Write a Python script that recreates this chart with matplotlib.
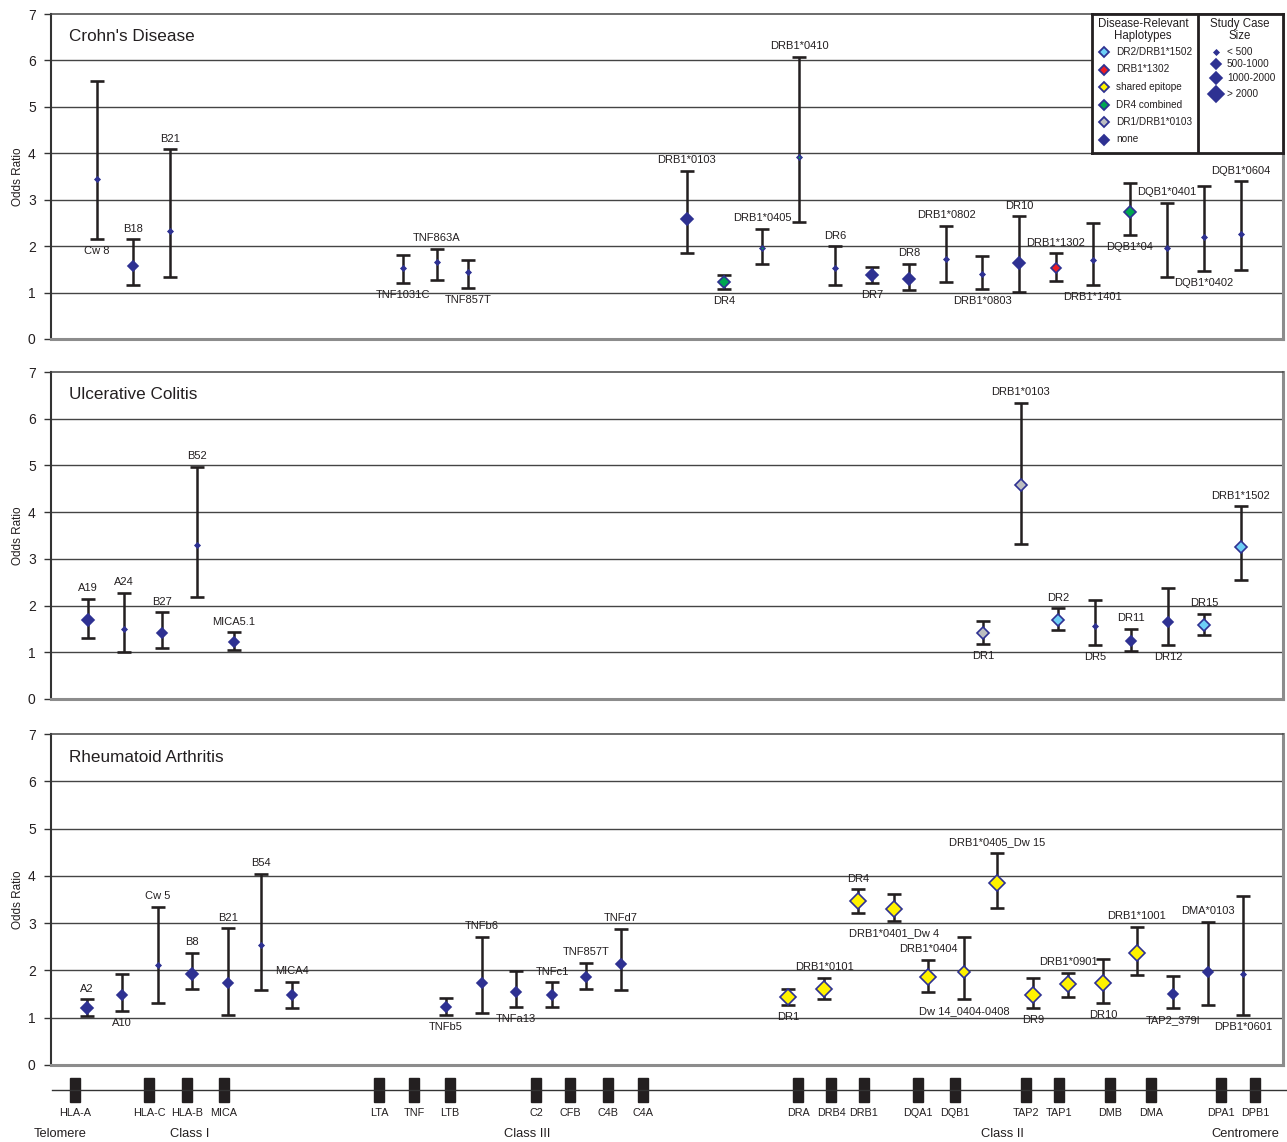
import matplotlib.pyplot as plt
from matplotlib.patches import Rectangle

plt.rcParams['font.family'] = ['Liberation Sans', 'DejaVu Sans']

# Crohn's disease
cd_names = ['Cw 8', 'B18', 'B21', 'TNF1031C', 'TNF863A', 'TNF857T', 'DRB1*0103', 'DR4',
            'DRB1*0405', 'DRB1*0410', 'DR6', 'DR7', 'DR8', 'DRB1*0802', 'DRB1*0803', 'DR10',
            'DRB1*1302', 'DRB1*1401', 'DQB1*04', 'DQB1*0401', 'DQB1*0402', 'DQB1*0604']
cd_pos = [97, 133, 170, 403, 437, 468, 687, 724, 762, 799, 835, 872, 909, 946, 982, 1019,
          1056, 1093, 1130, 1167, 1204, 1241]
cd_or = [3.45, 1.57, 2.33, 1.53, 1.66, 1.44, 2.59, 1.23, 1.96, 3.92, 1.53, 1.38, 1.29, 1.72,
         1.40, 1.64, 1.52, 1.70, 2.73, 1.96, 2.20, 2.27]
cd_lo = [2.15, 1.16, 1.34, 1.21, 1.27, 1.10, 1.85, 1.08, 1.62, 2.52, 1.16, 1.20, 1.06, 1.23,
         1.08, 1.01, 1.26, 1.17, 2.23, 1.34, 1.47, 1.49]
cd_hi = [5.56, 2.15, 4.09, 1.81, 1.94, 1.70, 3.62, 1.38, 2.37, 6.08, 2.00, 1.55, 1.62, 2.44,
         1.78, 2.64, 1.85, 2.50, 3.35, 2.93, 3.29, 3.40]
cd_hap = ['none', 'none', 'none', 'none', 'none', 'none', 'none', 'dr4', 'dr4', 'dr4', 'none',
          'none', 'none', 'none', 'none', 'none', 'dr1302', 'none', 'dr4', 'none', 'none', 'none']
cd_size = ['s', 'm', 's', 's', 's', 's', 'l', 'l', 's', 's', 's', 'l', 'l', 's', 's', 'l',
           'm', 's', 'l', 's', 's', 's']
cd_place = ['b', 'a', 'a', 'b', 'a', 'b', 'a', 'b', 'a', 'a', 'a', 'b', 'a', 'a', 'b', 'a',
            'a', 'b', 'b', 'a', 'b', 'a']

# ulcerative colitis
uc_names = ['A19', 'A24', 'B27', 'B52', 'MICA5.1', 'DR1', 'DRB1*0103', 'DR2', 'DR5', 'DR11',
            'DR12', 'DR15', 'DRB1*1502']
uc_pos = [88, 124, 162, 197, 234, 983, 1021, 1058, 1095, 1131, 1168, 1204, 1241]
uc_or = [1.69, 1.50, 1.42, 3.30, 1.22, 1.41, 4.58, 1.69, 1.56, 1.24, 1.65, 1.59, 3.25]
uc_lo = [1.31, 1.00, 1.09, 2.18, 1.05, 1.18, 3.32, 1.47, 1.15, 1.02, 1.15, 1.37, 2.55]
uc_hi = [2.14, 2.27, 1.86, 4.97, 1.43, 1.67, 6.34, 1.94, 2.12, 1.50, 2.38, 1.82, 4.13]
uc_hap = ['none', 'none', 'none', 'none', 'none', 'dr1', 'dr1', 'dr2', 'none', 'none', 'none',
          'dr2', 'dr2']
uc_size = ['l', 's', 'm', 's', 'm', 'l', 'l', 'l', 's', 'm', 'm', 'l', 'l']
uc_place = ['a', 'a', 'a', 'a', 'a', 'b', 'a', 'a', 'b', 'a', 'b', 'a', 'a']

# rheumatoid arthritis
ra_names = ['A2', 'A10', 'Cw 5', 'B8', 'B21', 'B54', 'MICA4', 'TNFb5', 'TNFb6', 'TNFa13',
            'TNFc1', 'TNF857T', 'TNFd7', 'DR1', 'DRB1*0101', 'DR4', 'DRB1*0401_Dw 4',
            'DRB1*0404', 'Dw 14_0404-0408', 'DRB1*0405_Dw 15', 'DR9', 'DRB1*0901', 'DR10',
            'DRB1*1001', 'TAP2_379I', 'DMA*0103', 'DPB1*0601']
ra_pos = [87, 122, 158, 192, 228, 261, 292, 446, 482, 516, 552, 586, 621, 788, 824, 858, 894,
          928, 964, 997, 1033, 1068, 1103, 1137, 1173, 1208, 1243]
ra_or = [1.21, 1.49, 2.11, 1.93, 1.73, 2.54, 1.47, 1.23, 1.73, 1.55, 1.47, 1.87, 2.13, 1.43,
         1.61, 3.46, 3.29, 1.87, 1.96, 3.84, 1.49, 1.71, 1.73, 2.37, 1.50, 1.96, 1.93]
ra_lo = [1.04, 1.15, 1.32, 1.61, 1.06, 1.59, 1.21, 1.06, 1.11, 1.23, 1.23, 1.61, 1.58, 1.26,
         1.40, 3.21, 3.04, 1.54, 1.40, 3.32, 1.20, 1.44, 1.32, 1.90, 1.21, 1.27, 1.06]
ra_hi = [1.39, 1.93, 3.35, 2.37, 2.89, 4.04, 1.76, 1.42, 2.71, 1.99, 1.75, 2.16, 2.88, 1.61,
         1.85, 3.72, 3.62, 2.22, 2.70, 4.48, 1.85, 1.95, 2.25, 2.92, 1.88, 3.03, 3.57]
ra_hap = ['none'] * 13 + ['se'] * 11 + ['none'] * 3
ra_size = ['l', 'm', 's', 'l', 'm', 's', 'm', 'm', 'm', 'm', 'm', 'm', 'm', 'xl', 'xl', 'xl',
           'xl', 'xl', 'l', 'xl', 'xl', 'xl', 'xl', 'xl', 'm', 'm', 's']
ra_place = ['a', 'b', 'a', 'a', 'a', 'a', 'a', 'b', 'a', 'b', 'a', 'a', 'a', 'b', 'a', 'a',
            'b', 'a', 'b', 'a', 'b', 'a', 'b', 'a', 'b', 'a', 'b']

# gene map
genes = ['HLA-A', 'HLA-C', 'HLA-B', 'MICA', 'LTA', 'TNF', 'LTB', 'C2', 'CFB', 'C4B', 'C4A',
         'DRA', 'DRB4', 'DRB1', 'DQA1', 'DQB1', 'TAP2', 'TAP1', 'DMB', 'DMA', 'DPA1', 'DPB1']
gene_pos = [75, 149, 187, 224, 379, 414, 450, 536, 570, 608, 643, 798, 831, 864, 918, 955,
            1026, 1059, 1110, 1151, 1221, 1255]
regions = ['Telomere', 'Class I', 'Class III', 'Class II', 'Centromere']
region_pos = [60, 190, 527, 1002, 1245]

hap_labels = ['DR2/DRB1*1502', 'DRB1*1302', 'shared epitope', 'DR4 combined', 'DR1/DRB1*0103', 'none']
hap_keys = ['dr2', 'dr1302', 'se', 'dr4', 'dr1', 'none']
size_labels = ['< 500', '500-1000', '1000-2000', '> 2000']
size_keys = ['s', 'm', 'l', 'xl']

navy = '#2E3192'
ink = '#231F20'
hap_color = {'none': navy, 'dr2': '#6DCFF6', 'dr1302': '#ED1C24', 'se': '#FFF200',
             'dr4': '#00A651', 'dr1': '#BCBEC0'}
size_ms = {'s': 2.4, 'm': 4.6, 'l': 6.0, 'xl': 8.0}

W, H = 1287, 1142
fig = plt.figure(figsize=(W / 100, H / 100), dpi=100)


def px_axes(l, t, r, b):
    return fig.add_axes([l / W, 1 - b / H, (r - l) / W, (b - t) / H])


def panel(top, bottom, title, names, pos, orv, lo, hi, hap, size, place):
    ax = px_axes(51, top, 1283, bottom)
    ax.set_xlim(51, 1283)
    ax.set_ylim(0, 7)
    ax.set_xticks([])
    ax.set_yticks(range(8))
    ax.tick_params(axis='y', length=5, width=1, color='#333333', labelcolor=ink,
                   labelsize=10, pad=6)
    for y in range(1, 7):
        ax.axhline(y, color='#444444', lw=1.0, zorder=1)
    ax.spines['left'].set_color('#333333')
    ax.spines['left'].set_linewidth(1.5)
    ax.spines['top'].set_color('#444444')
    ax.spines['top'].set_linewidth(1.1)
    for s in ['right', 'bottom']:
        ax.spines[s].set_color('#8c8c8c')
        ax.spines[s].set_linewidth(2.2)
    ax.set_ylabel('Odds Ratio', fontsize=8.5, color=ink)
    ax.yaxis.set_label_coords(-27 / 1232, 0.5)
    ax.text(0.015, 0.93, title, transform=ax.transAxes, fontsize=12.3, color=ink, va='center')

    err = [[o - l for o, l in zip(orv, lo)], [h - o for o, h in zip(orv, hi)]]
    ax.errorbar(pos, orv, yerr=err, fmt='none', ecolor=ink, elinewidth=1.8,
                capsize=5, capthick=1.9, zorder=2)
    for i in range(len(names)):
        ax.plot(pos[i], orv[i], 'D', ms=size_ms[size[i]], mfc=hap_color[hap[i]],
                mec=navy, mew=1.2, zorder=3)
        if place[i] == 'a':
            ax.annotate(names[i], (pos[i], hi[i]), xytext=(0, 4), textcoords='offset points',
                        ha='center', va='bottom', fontsize=8, color=ink)
        else:
            ax.annotate(names[i], (pos[i], lo[i]), xytext=(0, -5), textcoords='offset points',
                        ha='center', va='top', fontsize=8, color=ink)
    return ax


panel(14, 339, "Crohn's Disease", cd_names, cd_pos, cd_or, cd_lo, cd_hi, cd_hap, cd_size, cd_place)
panel(372, 699, 'Ulcerative Colitis', uc_names, uc_pos, uc_or, uc_lo, uc_hi, uc_hap, uc_size, uc_place)
panel(734, 1065, 'Rheumatoid Arthritis', ra_names, ra_pos, ra_or, ra_lo, ra_hi, ra_hap, ra_size, ra_place)

# legend box
lg = px_axes(1092, 14, 1283, 153)
lg.set_xlim(1092, 1283)
lg.set_ylim(153, 14)
lg.set_xticks([])
lg.set_yticks([])
for s in lg.spines.values():
    s.set_color(ink)
    s.set_linewidth(2)
lg.axvline(1198, color=ink, lw=2)
lg.text(1143, 30, 'Disease-Relevant\nHaplotypes', ha='center', va='center', fontsize=8.3,
        color=ink, linespacing=1.05)
lg.text(1240, 30, 'Study Case\nSize', ha='center', va='center', fontsize=8.3,
        color=ink, linespacing=1.05)
for i, (k, lab) in enumerate(zip(hap_keys, hap_labels)):
    y = 52 + i * 17.5
    lg.plot(1104, y, 'D', ms=5.4, mfc=hap_color[k], mec=navy, mew=1.3)
    lg.text(1116, y, lab, va='center', fontsize=7.2, color=ink)
size_rows = [52, 64, 78, 94]
for k, lab, y in zip(size_keys, size_labels, size_rows):
    lg.plot(1216, y, 'D', ms=size_ms[k], mfc=navy, mec=navy, mew=1.2)
    lg.text(1227, y, lab, va='center', fontsize=7.2, color=ink)

# gene map strip
gm = px_axes(0, 1065, 1287, 1142)
gm.set_xlim(0, 1287)
gm.set_ylim(1142, 1065)
gm.axis('off')
gm.plot([52, 1287], [1090, 1090], color='#333333', lw=1)
for g, x in zip(genes, gene_pos):
    gm.add_patch(Rectangle((x - 5, 1078), 10, 24, color=ink))
    gm.text(x, 1113, g, ha='center', va='center', fontsize=7.8, color=ink)
for r, x in zip(regions, region_pos):
    gm.text(x, 1134, r, ha='center', va='center', fontsize=9.3, color=ink)

fig.savefig('out.png', dpi=100)
